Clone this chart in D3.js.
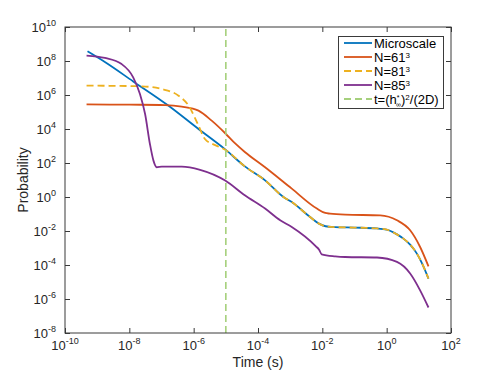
<!DOCTYPE html>
<html>
<head>
<meta charset="utf-8">
<script src="https://cdn.jsdelivr.net/npm/d3@7"></script>
<style>
  body { margin: 0; background: #fff; }
  svg { display: block; font-family: "Liberation Sans", Arial, Helvetica, sans-serif; }
</style>
</head>
<body>
<svg id="chart" width="498" height="374"></svg>
<script>
// values, as log10 exponents
const microLogT = [-9.3, -8.76, -7.88, -6.79, -5.85, -5.02, -4.41, -3.78, -3.21, -2.95, -2.38, -2.12, -1.9, -1.6, -1.0, -0.3, 0.0, 0.32, 0.52, 0.73, 0.94, 1.1, 1.3];
const microLogP = [8.57, 7.94, 6.8, 5.38, 4.0, 2.8, 1.8, 0.98, 0.0, -0.3, -1.18, -1.55, -1.72, -1.77, -1.8, -1.85, -1.92, -2.2, -2.45, -2.8, -3.33, -3.9, -4.8];

const n61LogT = [-9.33, -8.0, -6.89, -6.37, -5.85, -5.44, -5.02, -4.71, -4.41, -3.79, -2.95, -2.17, -1.91, -1.76, -1.29, -0.2, 0.32, 0.73, 1.04, 1.3];
const n61LogP = [5.45, 5.43, 5.41, 5.32, 5.08, 4.49, 3.75, 3.15, 2.65, 1.76, 0.49, -0.68, -0.94, -0.98, -1.04, -1.08, -1.37, -1.96, -2.94, -4.08];

const n81LogT = [-9.33, -8.5, -7.61, -6.99, -6.47, -6.16, -5.85, -5.65, -5.33, -5.02, -4.41, -3.78, -3.21, -2.95, -2.38, -2.12, -1.9, -1.6, -1.0, -0.3, 0.0, 0.32, 0.52, 0.73, 0.94, 1.1, 1.3];
const n81LogP = [6.55, 6.54, 6.51, 6.35, 5.96, 5.38, 4.2, 3.41, 3.05, 2.78, 1.8, 0.98, 0.0, -0.3, -1.18, -1.55, -1.72, -1.77, -1.8, -1.85, -1.92, -2.2, -2.45, -2.8, -3.33, -3.9, -4.8];

const n85LogT = [-9.33, -8.76, -8.24, -7.88, -7.67, -7.51, -7.36, -7.25, -7.15, -6.99, -6.37, -5.8, -5.02, -4.41, -3.78, -3.31, -2.95, -2.2, -2.1, -2.02, -1.6, -1.29, -0.3, 0.32, 0.73, 1.04, 1.3];
const n85LogP = [8.32, 8.18, 7.82, 7.04, 6.06, 4.88, 3.12, 2.14, 1.75, 1.79, 1.79, 1.6, 0.97, 0.1, -0.68, -1.37, -1.76, -2.9, -3.1, -3.37, -3.49, -3.53, -3.56, -3.82, -4.5, -5.49, -6.5];

const diffusionTime = 1e-5;

const xTickExp = [-10, -8, -6, -4, -2, 0, 2];
const yTickExp = [-8, -6, -4, -2, 0, 2, 4, 6, 8, 10];

const seriesNames = ["Microscale", "N=61", "N=81", "N=85"];
const seriesColors = ["#0072bd", "#d95319", "#edb120", "#7e2f8e"];
const lineColor = "#a6d07c";

const svg = d3.select("#chart");
const axisColor = "#3a3a3a";

const x = d3.scaleLog().domain([1e-10, 1e2]).range([65, 451]);
const y = d3.scaleLog().domain([1e-8, 1e10]).range([333, 27]);

function toPoints(lt, lp) {
  return lt.map((t, i) => [Math.pow(10, t), Math.pow(10, lp[i])]);
}

const series = [
  { pts: toPoints(microLogT, microLogP), dash: null },
  { pts: toPoints(n61LogT, n61LogP), dash: null },
  { pts: toPoints(n81LogT, n81LogP), dash: "7,4" },
  { pts: toPoints(n85LogT, n85LogP), dash: null },
];

const line = d3.line()
  .x(d => x(d[0]))
  .y(d => y(d[1]))
  .curve(d3.curveMonotoneX);

series.forEach((s, i) => {
  svg.append("path")
    .attr("d", line(s.pts))
    .attr("fill", "none")
    .attr("stroke", seriesColors[i])
    .attr("stroke-width", 1.8)
    .attr("stroke-dasharray", s.dash);
});

// vertical line at t=(h*)^2/(2D)
svg.append("line")
  .attr("x1", x(diffusionTime)).attr("x2", x(diffusionTime))
  .attr("y1", y(1e-8)).attr("y2", y(1e10))
  .attr("stroke", lineColor)
  .attr("stroke-width", 1.6)
  .attr("stroke-dasharray", "7,4");

// ticks, inward, on all four sides
const tickLen = 5;
const xt = xTickExp.map(e => Math.pow(10, e));
const yt = yTickExp.map(e => Math.pow(10, e));

svg.append("g").attr("transform", `translate(0,${y.range()[0]})`)
  .call(d3.axisBottom(x).tickValues(xt).tickSizeInner(-tickLen).tickSizeOuter(0).tickFormat(""));
svg.append("g").attr("transform", `translate(0,${y.range()[1]})`)
  .call(d3.axisTop(x).tickValues(xt).tickSizeInner(-tickLen).tickSizeOuter(0).tickFormat(""));
svg.append("g").attr("transform", `translate(${x.range()[0]},0)`)
  .call(d3.axisLeft(y).tickValues(yt).tickSizeInner(-tickLen).tickSizeOuter(0).tickFormat(""));
svg.append("g").attr("transform", `translate(${x.range()[1]},0)`)
  .call(d3.axisRight(y).tickValues(yt).tickSizeInner(-tickLen).tickSizeOuter(0).tickFormat(""));

svg.selectAll(".domain").remove();
svg.selectAll(".tick line").attr("stroke", axisColor);

// box
svg.append("rect")
  .attr("x", x.range()[0]).attr("y", y.range()[1])
  .attr("width", x.range()[1] - x.range()[0])
  .attr("height", y.range()[0] - y.range()[1])
  .attr("fill", "none")
  .attr("stroke", axisColor)
  .attr("stroke-width", 1);

// tick labels 10^n
function powLabel(sel, e) {
  sel.append("tspan").text("10");
  sel.append("tspan").attr("dy", -6).attr("font-size", 9).text(e < 0 ? "-" + (-e) : e);
}

xTickExp.forEach(e => {
  const t = svg.append("text")
    .attr("x", x(Math.pow(10, e)))
    .attr("y", 350)
    .attr("text-anchor", "middle")
    .attr("font-size", 13)
    .attr("fill", "#262626");
  powLabel(t, e);
});

yTickExp.forEach(e => {
  const t = svg.append("text")
    .attr("x", 56)
    .attr("y", y(Math.pow(10, e)) + 4.5)
    .attr("text-anchor", "end")
    .attr("font-size", 13)
    .attr("fill", "#262626");
  powLabel(t, e);
});

// axis labels
svg.append("text")
  .attr("x", (x.range()[0] + x.range()[1]) / 2)
  .attr("y", 367)
  .attr("text-anchor", "middle")
  .attr("font-size", 14)
  .attr("fill", "#262626")
  .text("Time (s)");

svg.append("text")
  .attr("transform", `translate(28,${(y.range()[0] + y.range()[1]) / 2}) rotate(-90)`)
  .attr("text-anchor", "middle")
  .attr("font-size", 14)
  .attr("fill", "#262626")
  .text("Probability");

// legend
const lg = svg.append("g");
lg.append("rect")
  .attr("x", 338.5).attr("y", 36.5)
  .attr("width", 105).attr("height", 72)
  .attr("fill", "#fff")
  .attr("stroke", axisColor)
  .attr("stroke-width", 1);

const rowY = [43, 57, 71, 85, 99];
const legendItems = seriesNames.map((n, i) => ({ name: n, color: seriesColors[i], dash: series[i].dash }))
  .concat([{ name: "t", color: lineColor, dash: "7,4" }]);

legendItems.forEach((d, i) => {
  lg.append("line")
    .attr("x1", 344).attr("x2", 372)
    .attr("y1", rowY[i]).attr("y2", rowY[i])
    .attr("stroke", d.color)
    .attr("stroke-width", 1.8)
    .attr("stroke-dasharray", d.dash);
  const t = lg.append("text")
    .attr("x", 374)
    .attr("y", rowY[i] + 4.5)
    .attr("font-size", 13)
    .attr("fill", "#000");
  if (i === 0) {
    t.text(d.name);
  } else if (i < 4) {
    t.append("tspan").text(d.name);
    t.append("tspan").attr("dy", -4).attr("font-size", 8).text("3");
  } else {
    t.append("tspan").text("t=(h");
    t.append("tspan").attr("dy", -4).attr("font-size", 7).text("*");
    t.append("tspan").attr("dx", -3.5).attr("dy", 7).attr("font-size", 7).text("∞");
    t.append("tspan").attr("dy", -3).text(")");
    t.append("tspan").attr("dy", -4).attr("font-size", 8).text("2");
    t.append("tspan").attr("dy", 4).text("/(2D)");
  }
});
</script>
</body>
</html>
